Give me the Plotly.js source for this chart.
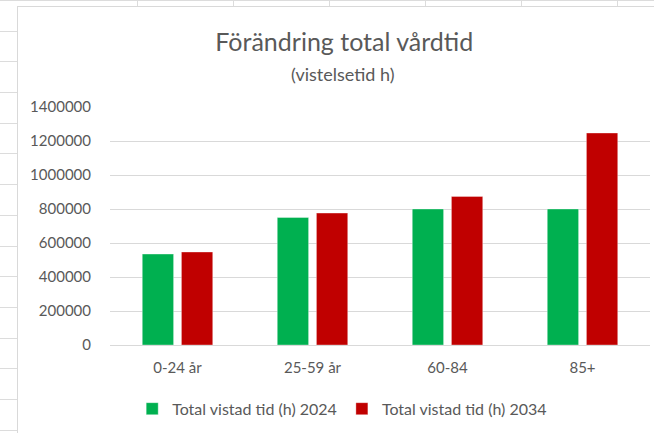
<!DOCTYPE html>
<html>
<head>
<meta charset="utf-8">
<script src="https://cdn.plot.ly/plotly-3.0.1.min.js"></script>
<style>
  html, body { margin: 0; padding: 0; width: 654px; height: 433px; overflow: hidden; }
  body {
    background-color: #ffffff;
    background-image:
      repeating-linear-gradient(to bottom, transparent 0px, transparent 29.7px, #dcdcdc 29.7px, #dcdcdc 30.7px),
      repeating-linear-gradient(to right, transparent 0px, transparent 95px, #dcdcdc 95px, #dcdcdc 96px);
    background-position: 0px 1px, 42px 0px;
    position: relative;
  }
  #topline { position: absolute; left: 0; top: 0; width: 654px; height: 1px; background: #dcdcdc; }
  #chart {
    position: absolute; left: 17px; top: 6px; width: 640px; height: 427px;
    background: #ffffff; border-left: 1px solid #d9d9d9; border-top: 1px solid #d9d9d9;
  }
</style>
</head>
<body>
<div id="topline"></div>
<div id="chart"></div>
<script>
const categories = ["0-24 år", "25-59 år", "60-84", "85+"];
const values2024 = [535000, 750000, 800000, 800000];
const values2034 = [547000, 776000, 874000, 1247000];
const seriesNames = ["Total vistad tid (h) 2024", "Total vistad tid (h) 2034"];
const tickVals = [0, 200000, 400000, 600000, 800000, 1000000, 1200000, 1400000];
const tickText = ["0", "200000", "400000", "600000", "800000", "1000000", "1200000", "1400000"];

const textColor = "#595959";
const fontFam = "Lato, 'Open Sans', sans-serif";

const traces = [
  { type: "bar", x: categories, y: values2024, name: seriesNames[0],
    marker: { color: "#00B050", line: { color: "rgba(255,255,255,0.35)", width: 1 } }, hoverinfo: "y" },
  { type: "bar", x: categories, y: values2034, name: seriesNames[1],
    marker: { color: "#C00000", line: { color: "rgba(255,255,255,0.35)", width: 1 } }, hoverinfo: "y" }
];

const layout = {
  width: 636, height: 426,
  margin: { l: 92, r: 4, t: 100, b: 88, pad: 0 },
  paper_bgcolor: "#ffffff", plot_bgcolor: "#ffffff",
  font: { family: fontFam, color: textColor, size: 15 },
  title: { text: "Förändring total vårdtid", font: { size: 25, color: textColor, family: fontFam },
           x: 0.513, xref: "container", xanchor: "center", y: 0.918, yref: "container", yanchor: "middle" },
  annotations: [{ text: "(vistelsetid h)", xref: "paper", yref: "paper", x: 0.431, y: 1.139,
                  xanchor: "center", yanchor: "middle", showarrow: false,
                  font: { size: 18, color: textColor, family: fontFam } }],
  barmode: "group", bargap: 0.42, bargroupgap: 0.2,
  xaxis: { type: "category", showgrid: false, showline: true, linecolor: "#d9d9d9", linewidth: 1,
           ticks: "outside", ticklen: 9, tickcolor: "rgba(0,0,0,0)", tickfont: { size: 15, color: textColor },
           fixedrange: true },
  yaxis: { range: [0, 1400000], tickvals: tickVals, ticktext: tickText, showgrid: true,
           gridcolor: "#d9d9d9", gridwidth: 1, zeroline: false, showline: false,
           ticks: "outside", ticklen: 15, tickcolor: "rgba(0,0,0,0)", tickfont: { size: 15, color: textColor },
           fixedrange: true },
  showlegend: true,
  legend: { orientation: "h", x: 0.43, xanchor: "center", y: -0.268, yanchor: "middle",
            font: { size: 16, color: textColor }, itemwidth: 30, bgcolor: "rgba(0,0,0,0)" }
};

Plotly.newPlot("chart", traces, layout, { displayModeBar: false, staticPlot: true });
</script>
</body>
</html>
